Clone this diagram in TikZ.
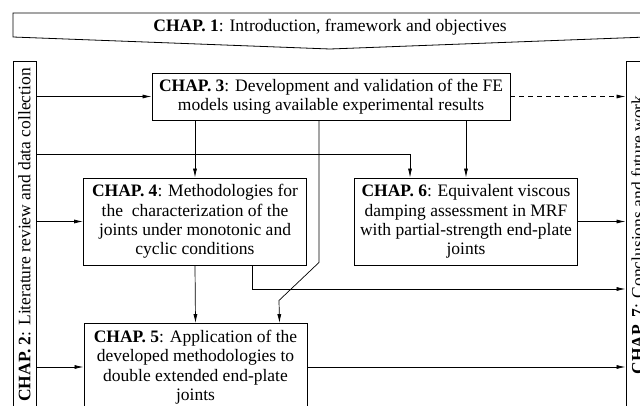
\documentclass[tikz,border=0pt]{standalone}
\usepackage{fontspec}
\setmainfont{Liberation Serif}
\usetikzlibrary{arrows.meta,calc}
\def\chapfont{\fontsize{17.5}{19.4}\selectfont}
\tikzset{
	chapbox/.style={draw, line width=0.9pt, inner sep=0pt, align=center, minimum width=223, minimum height=87, font=\chapfont},
	sidebox/.style={draw, line width=0.9pt, inner sep=0pt, minimum width=23, minimum height=348, font=\chapfont},
	link/.style={line width=0.7pt, -{Latex[length=9pt,width=4pt]}},
}

\begin{document}
\begin{tikzpicture}[x=1pt, y=-1pt]
		\clip (0,0) rectangle (640,405);
		%%%%% START %%%%%
		
		\draw[line width=0.8pt] (13,13) -- (647,13) -- (647,37) -- (330,49) -- (13,37) -- cycle;
		\node[font=\chapfont] (ch1) at (330,27) {\textbf{CHAP. 1}: Introduction, framework and objectives};
		
		\node[sidebox] (side2) at (24.5,235) {\rotatebox{90}{\textbf{CHAP. 2}: Literature review and data collection}};
		\node[sidebox] (side7) at (637.5,235) {\rotatebox{90}{\textbf{CHAP. 7}: Conclusions and future work}};
		
		\node[chapbox, minimum width=358, minimum height=47] (ch3) at (331,96.5) {\textbf{CHAP. 3}: Development and validation of the FE\\models using available experimental results};
		\node[chapbox] (ch4) at (195,221.5) {\textbf{CHAP. 4}: Methodologies for\\the \ characterization of the\\joints under monotonic and\\cyclic conditions};
		\node[chapbox] (ch6) at (466,221.5) {\textbf{CHAP. 6}: Equivalent viscous\\damping assessment in MRF\\with partial-strength end-plate\\joints};
		\node[chapbox] (ch5) at (195.5,367) {\textbf{CHAP. 5}: Application of the\\developed methodologies to\\double extended end-plate\\joints};
		
		\draw[link] (side2.east |- ch3.west) -- (ch3.west);
		\draw[link] (side2.east |- ch4.west) -- (ch4.west);
		\draw[link] (side2.east |- ch5.west) -- (ch5.west);
		\draw[link] (side2.east |- 0,154) -| ($(ch6.north west)!0.25!(ch6.north east)$);
		
		\draw[link] (ch3.south -| ch4.north) -- (ch4.north);
		\draw[link] (ch3.south -| ch6.north) -- (ch6.north);
		\draw[link] ([xshift=-12pt]ch3.south) -- ++(0,142) -- ++(-40,38) -- ([xshift=84pt]ch5.north);
		\draw[link] (ch4.south) -- (ch5.north);
		\draw[link] ([xshift=57pt]ch4.south) |- (side7.west |- 0,289);
		
		\draw[link, dash pattern=on 5pt off 4pt] (ch3.east) -- (side7.west |- ch3.east);
		\draw[link] (ch6.east) -- (side7.west |- ch6.east);
		\draw[link] (ch5.east) -- (side7.west |- ch5.east);
		
		%%%%% END %%%%%
	\end{tikzpicture}
\end{document}
